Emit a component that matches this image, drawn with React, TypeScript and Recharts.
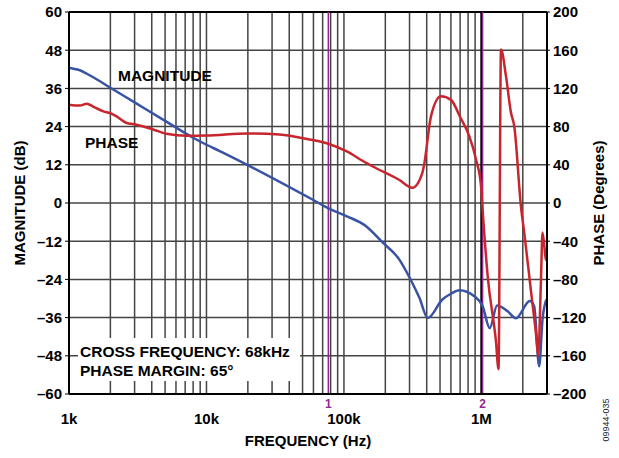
import { LineChart, Line, XAxis, YAxis, CartesianGrid, ReferenceLine, Customized } from 'recharts'

// magnitude curve (Hz, dB)
const magFreq = [
  1000, 1100, 1200, 1350, 1500, 2000, 3000, 5000, 8000, 10000, 12500, 20600, 59000, 76000,
  104000, 145000, 187000, 253000, 300000, 354000, 407000, 520000, 600000, 691000, 888000,
  1020000, 1150000, 1300000, 1550000, 1783000, 2250000, 2420000, 2632000, 2782000, 2970000
]
const magDb = [
  42.5, 42.1, 41.7, 40.6, 39.5, 36.2, 31.6, 25.8, 20.5, 18.3, 16.3, 11.6, 1.1, -1.5,
  -4.1, -7.3, -12, -17.8, -23.4, -29.8, -36.1, -30.3, -28.5, -27.4, -29.3,
  -32.4, -39.3, -32.2, -34, -36.2, -30.8, -32.4, -51.3, -36.6, -30.3
]

// phase curve (Hz, degrees)
const phaseFreq = [
  1000, 1200, 1350, 1500, 1780, 2000, 2200, 2600, 3100, 4100, 5100, 7200, 10000, 20000,
  34000, 56000, 76000, 104000, 145000, 161000, 250000, 315000, 372000, 385000, 430000,
  507000, 601000, 700000, 816000, 914000, 994000, 1020000, 1110000, 1276000, 1332000,
  1388000, 1509000, 1641000, 1734000, 1939000, 2049000, 2293000, 2491000, 2589000,
  2709000, 2782000, 2946000, 2970000
]
const phaseDeg = [
  103, 102, 104, 101, 96, 94, 91, 84, 82, 77, 72.5, 70.5, 70.7, 72.8,
  71.7, 66.5, 62.3, 54.2, 42, 38.5, 24.6, 16, 31.6, 42, 91,
  111.8, 108, 90, 70, 45.5, 17.6, -6.8, -76, -145, -174,
  160.7, 132.8, 94.5, 80.4, -3.4, -31, -92, -136, -160,
  -83, -31, -59, -60
]

const gridFreqs = [
  1000, 2000, 3000, 4000, 5000, 6000, 7000, 8000, 9000,
  10000, 20000, 30000, 40000, 50000, 60000, 70000, 80000, 90000,
  100000, 200000, 300000, 400000, 500000, 600000, 700000, 800000, 900000,
  1000000, 2000000, 3000000
]
const decadeLabels: Record<number, string> = { 1000: '1k', 10000: '10k', 100000: '100k', 1000000: '1M' }
const magTicks = [-60, -48, -36, -24, -12, 0, 12, 24, 36, 48, 60]
const phaseTicks = [-200, -160, -120, -80, -40, 0, 40, 80, 120, 160, 200]
const markers = [
  { f: 77000, label: '1' },
  { f: 1020000, label: '2' }
]

const magData = magFreq.map((f, i) => ({ f, db: magDb[i] }))
const phaseData = phaseFreq.map((f, i) => ({ f, deg: phaseDeg[i] }))

const FONT = '"Liberation Sans", Arial, sans-serif'
const PURPLE = '#93278f'
const tickStyle = { fill: '#000', fontSize: 15, fontWeight: 700, fontFamily: FONT }
const minus = (v: number) => (v < 0 ? '\u2013' + Math.abs(v) : String(v))

function Notes() {
  const t = { fontFamily: FONT, fontWeight: 700, fontSize: 15.5, fill: '#000' }
  return (
    <g>
      <text x={118} y={81} {...t}>MAGNITUDE</text>
      <text x={85} y={148} {...t}>PHASE</text>
      <rect x={78} y={338} width={222} height={43} fill="#fff" />
      <text x={80} y={357} {...t}>CROSS FREQUENCY: 68kHz</text>
      <text x={80} y={376} {...t}>PHASE MARGIN: 65°</text>
      <text x={308} y={446} textAnchor="middle" {...t} fontSize={15}>FREQUENCY (Hz)</text>
      <text x={0} y={0} transform="translate(25,203) rotate(-90)" textAnchor="middle" {...t} fontSize={15}>
        MAGNITUDE (dB)
      </text>
      <text x={0} y={0} transform="translate(604,203) rotate(-90)" textAnchor="middle" {...t} fontSize={15}>
        PHASE (Degrees)
      </text>
      <text x={0} y={0} transform="translate(609,420) rotate(-90)" textAnchor="middle"
        fontFamily={FONT} fontSize={9} fill="#222">09944-035</text>
    </g>
  )
}

export default function App() {
  return (
    <div style={{ position: 'absolute', left: 0, top: 0, width: 619, height: 458, background: '#fff' }}>
      <LineChart width={619} height={458} margin={{ top: 12, right: 0, bottom: 0, left: 0 }}>
        <CartesianGrid
          yAxisId="mag"
          stroke="#444"
          strokeWidth={1.5}
          horizontalValues={magTicks}
          verticalValues={gridFreqs}
        />
        <XAxis
          dataKey="f"
          type="number"
          scale="log"
          domain={[1000, 3000000]}
          ticks={gridFreqs}
          tickFormatter={(v: number) => decadeLabels[v] ?? ''}
          interval={0}
          allowDataOverflow
          height={64}
          tickLine={false}
          tickSize={6}
          tickMargin={13}
          axisLine={{ stroke: '#000', strokeWidth: 2 }}
          tick={tickStyle}
        />
        <YAxis
          yAxisId="mag"
          orientation="left"
          domain={[-60, 60]}
          ticks={magTicks}
          interval={0}
          width={69}
          tickSize={4}
          tickMargin={3}
          tickFormatter={minus}
          axisLine={{ stroke: '#000', strokeWidth: 2 }}
          tickLine={{ stroke: '#000' }}
          tick={tickStyle}
        />
        <YAxis
          yAxisId="phase"
          orientation="right"
          domain={[-200, 200]}
          ticks={phaseTicks}
          interval={0}
          width={72}
          tickSize={3}
          tickMargin={3}
          tickFormatter={minus}
          axisLine={{ stroke: '#000', strokeWidth: 2 }}
          tickLine={{ stroke: '#000' }}
          tick={tickStyle}
        />
        <ReferenceLine yAxisId="mag" y={60} stroke="#000" strokeWidth={2} />
        <ReferenceLine yAxisId="mag" x={1000000} stroke="#000" strokeWidth={2} />
        {markers.map(m => (
          <ReferenceLine
            key={m.label}
            yAxisId="mag"
            x={m.f}
            stroke={PURPLE}
            strokeWidth={1.5}
            label={{ value: m.label, position: 'bottom', offset: 5, fill: PURPLE, fontSize: 12, fontWeight: 700, fontFamily: FONT }}
          />
        ))}
        <Line
          data={magData}
          yAxisId="mag"
          dataKey="db"
          type="monotone"
          stroke="#3953a4"
          strokeWidth={2.5}
          dot={false}
          isAnimationActive={false}
        />
        <Line
          data={phaseData}
          yAxisId="phase"
          dataKey="deg"
          type="monotone"
          stroke="#c8262e"
          strokeWidth={2.5}
          dot={false}
          isAnimationActive={false}
        />
        <Customized component={Notes} />
      </LineChart>
    </div>
  )
}
